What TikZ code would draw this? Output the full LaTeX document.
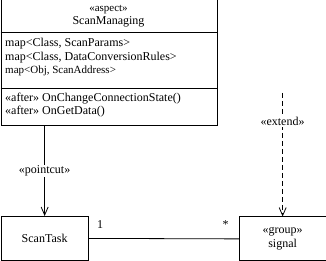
\documentclass[tikz,border=0pt]{standalone}
\usepackage{fontspec}
\setmainfont{Liberation Serif}
\usetikzlibrary{arrows.meta}
\begin{document}
\begin{tikzpicture}[x=1pt,y=-1pt,
  txt/.style={font=\fontsize{12}{14}\selectfont, inner sep=0pt},
  smalltxt/.style={font=\fontsize{11}{13}\selectfont, inner sep=0pt},
  box/.style={draw, line width=0.8pt, inner sep=0pt, rectangle},
  conn/.style={line width=0.8pt},
  vtip/.style={-{Straight Barb[length=8pt,width=7pt,line width=0.8pt]}},
  lbl/.style={fill=white, inner sep=1pt, font=\fontsize{12}{14}\selectfont}]
\useasboundingbox (0,0) rectangle (326,261);
% aspect box
\node[box, anchor=north west, minimum width=216.5pt, minimum height=126pt] (aspect) at (0.5,-1) {};
\draw[conn] (0.5,32) -- (217,32);
\draw[conn] (0.5,88) -- (217,88);
\node[txt, font=\fontsize{11}{13}\selectfont] (st) at (108.5,10) {«aspect»};
\node[txt] (nm) at (108.5,22) {ScanManaging};
\node[txt, anchor=west] (a1) at (5,44) {map<Class, ScanParams>};
\node[txt, anchor=west] (a2) at (5,57.5) {map<Class, DataConversionRules>};
\node[smalltxt, anchor=west] (a3) at (5,71) {map<Obj, ScanAddress>};
\node[txt, anchor=west] (o1) at (5,98.5) {«after» OnChangeConnectionState()};
\node[txt, anchor=west] (o2) at (5,112) {«after» OnGetData()};
% ScanTask
\node[box, anchor=north west, minimum width=87.5pt, minimum height=44pt, txt] (task) at (0.5,216) {ScanTask};
% signal
\node[box, anchor=north west, minimum width=86.5pt, minimum height=44pt, align=center, txt] (signal) at (239,216.5) {«group»\\signal};
% pointcut
\draw[conn, vtip] (task.north |- aspect.south) -- node[lbl] (pc) {«pointcut»} (task.north);
% extend
\coordinate (ext) at (signal.north |- 0,93);
\draw[conn, vtip, dash pattern=on 5pt off 3pt] (ext) -- (signal.north);
\node[lbl] (extl) at (282.5,121.5) {«extend»};
% association
\draw[conn] (task.east) -- (signal.west);
\node[txt] (m1) at (100,225) {1};
\node[txt] (m2) at (225.5,225) {*};
\end{tikzpicture}
\end{document}
